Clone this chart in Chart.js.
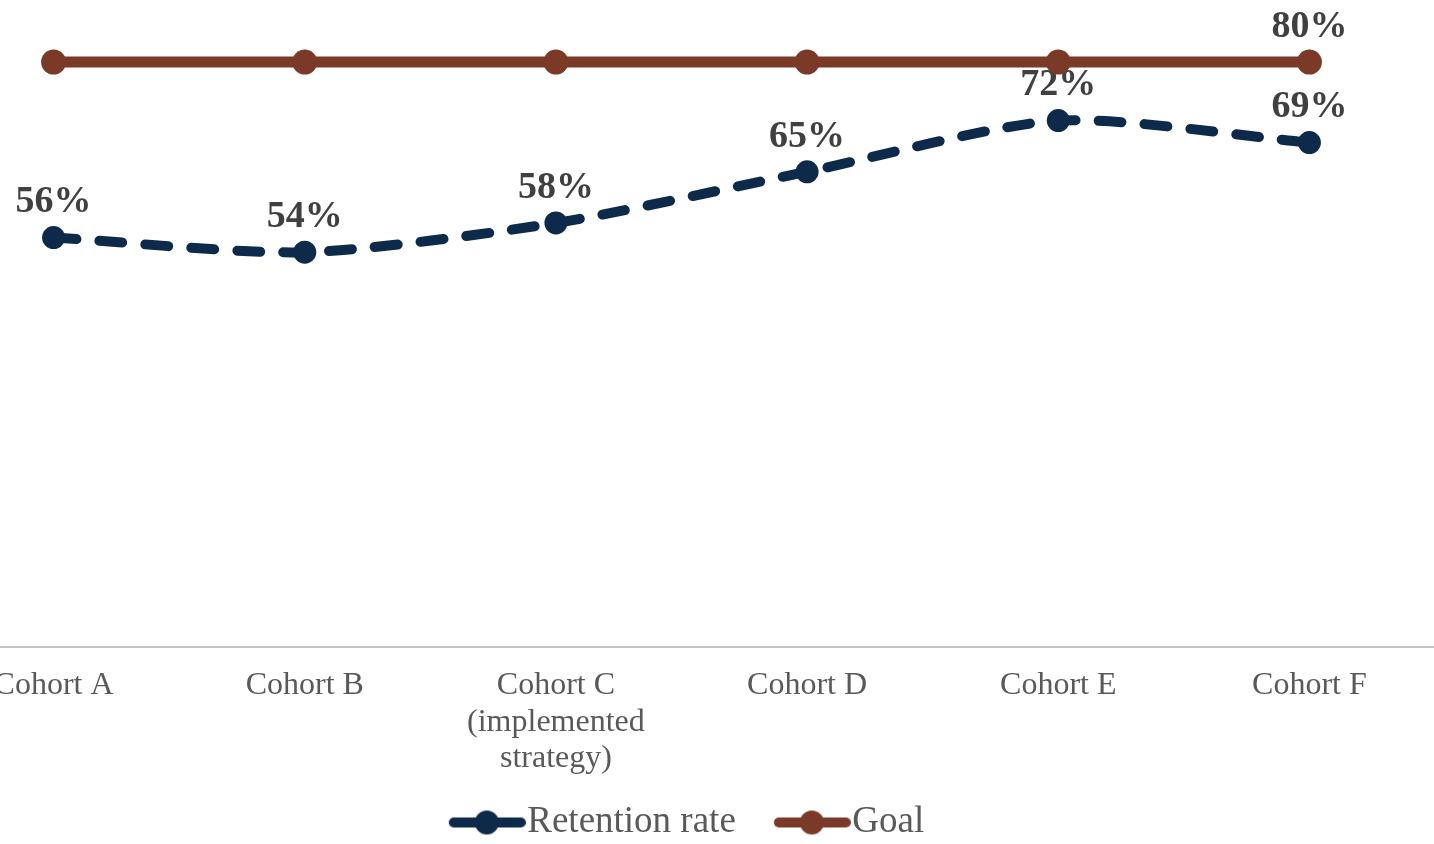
<!DOCTYPE html>
<html>
<head>
<meta charset="utf-8">
<title>Retention rate by cohort</title>
<script src="https://cdn.jsdelivr.net/npm/chart.js@4.4.1/dist/chart.umd.min.js"></script>
<style>
  html, body { margin: 0; padding: 0; background: #ffffff; overflow: hidden; width: 1434px; height: 844px; position: relative; }
  #chart { position: absolute; left: -72px; top: -11px; }
</style>
</head>
<body>
<canvas id="chart" width="1507" height="862"></canvas>
<script>
// Categories and series
const cohorts = ['Cohort A', 'Cohort B', ['Cohort C', '(implemented', 'strategy)'], 'Cohort D', 'Cohort E', 'Cohort F'];
const retentionRate = [56, 54, 58, 65, 72, 69];
const goal = [80, 80, 80, 80, 80, 80];
const seriesNames = ['Retention rate', 'Goal'];
// Which points of each series carry a value label
const labelledPoints = [[0, 1, 2, 3, 4, 5], [5]];

const NAVY = '#0d2a4b';
const BROWN = '#7a3a27';
const SERIF = "'Liberation Serif', 'Times New Roman', serif";

// Legend marker: short line with a dot in the middle (drawn right of the box centre)
function legendMark(color) {
  const c = document.createElement('canvas');
  c.width = 104; c.height = 28;
  const g = c.getContext('2d');
  g.strokeStyle = color;
  g.lineWidth = 10;
  g.lineCap = 'round';
  g.beginPath();
  g.moveTo(32, 14);
  g.lineTo(99, 14);
  g.stroke();
  g.fillStyle = color;
  g.beginPath();
  g.arc(65, 14, 12, 0, Math.PI * 2);
  g.fill();
  return c;
}
const legendMarks = [legendMark(NAVY), legendMark(BROWN)];

// Value labels above the points
const pointLabels = {
  id: 'pointLabels',
  beforeDatasetsDraw(chart, args, opts) {
    const ctx = chart.ctx;
    ctx.save();
    ctx.font = `bold ${opts.size}px ${opts.family}`;
    ctx.fillStyle = opts.color;
    ctx.textAlign = 'center';
    ctx.textBaseline = 'middle';
    chart.data.datasets.forEach((ds, di) => {
      const meta = chart.getDatasetMeta(di);
      labelledPoints[di].forEach(i => {
        const pt = meta.data[i];
        ctx.fillText(ds.data[i] + '%', pt.x, pt.y - opts.offset);
      });
    });
    ctx.restore();
  }
};

new Chart(document.getElementById('chart'), {
  type: 'line',
  data: {
    labels: cohorts,
    datasets: [
      {
        label: seriesNames[0],
        data: retentionRate,
        borderColor: NAVY,
        backgroundColor: NAVY,
        borderWidth: 10,
        borderDash: [23, 23],
        borderCapStyle: 'round',
        tension: 0.25,
        pointRadius: 11.5,
        pointBorderWidth: 0,
        pointBackgroundColor: NAVY
      },
      {
        label: seriesNames[1],
        data: goal,
        borderColor: BROWN,
        backgroundColor: BROWN,
        borderWidth: 11,
        borderCapStyle: 'round',
        tension: 0,
        pointRadius: 12.5,
        pointBorderWidth: 0,
        pointBackgroundColor: BROWN
      }
    ]
  },
  options: {
    responsive: false,
    animation: false,
    events: [],
    layout: { padding: 0, autoPadding: false },
    scales: {
      x: {
        type: 'category',
        offset: true,
        grid: { display: false, drawTicks: false },
        border: { display: true, color: '#c4c4c4', width: 2 },
        ticks: {
          color: '#595959',
          padding: 20,
          maxRotation: 0,
          autoSkip: false,
          font: { family: SERIF, size: 32, lineHeight: 1.15 }
        },
        afterFit(scale) { scale.height = 129; }
      },
      y: {
        display: false,
        min: 0,
        max: 90
      }
    },
    plugins: {
      tooltip: { enabled: false },
      legend: {
        position: 'bottom',
        labels: {
          usePointStyle: true,
          pointStyleWidth: 70,
          padding: 28,
          color: '#595959',
          font: { family: SERIF, size: 37 },
          generateLabels(chart) {
            const items = Chart.defaults.plugins.legend.labels.generateLabels(chart);
            items.forEach((it, i) => { it.pointStyle = legendMarks[i]; });
            return items;
          }
        }
      },
      pointLabels: { size: 38, family: SERIF, color: '#404040', offset: 35 }
    }
  },
  plugins: [pointLabels]
});
</script>
</body>
</html>
